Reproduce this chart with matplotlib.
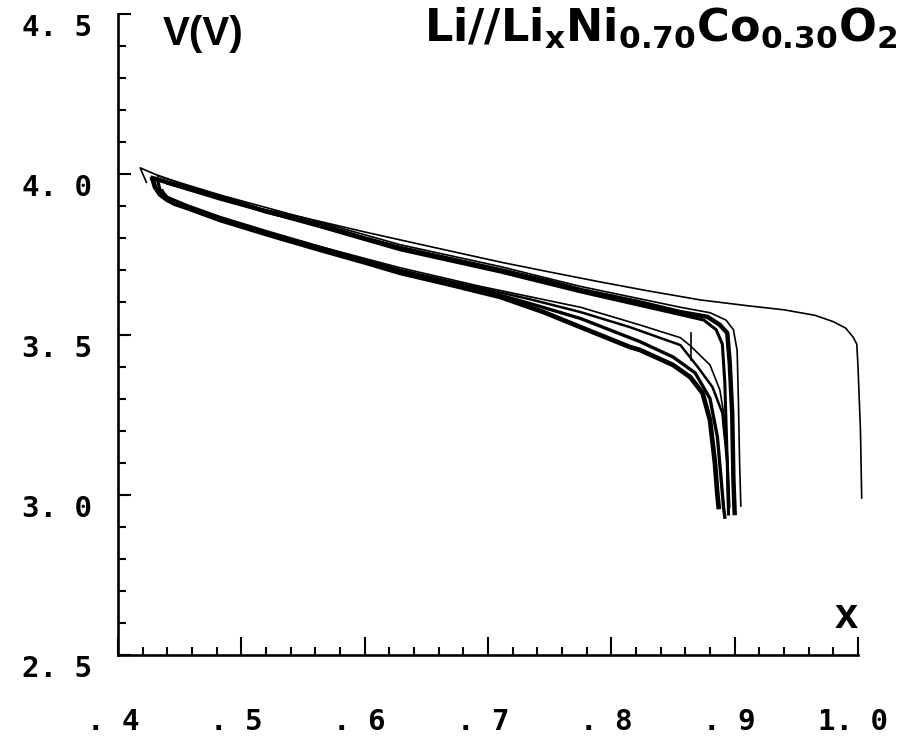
import matplotlib
matplotlib.use('Agg')
import matplotlib.pyplot as plt
from matplotlib.ticker import MultipleLocator
from matplotlib.transforms import ScaledTranslation

# tick labels as printed on the original plot
x_ticks = [0.4, 0.5, 0.6, 0.7, 0.8, 0.9, 1.0]
x_tick_labels = ['. 4', '. 5', '. 6', '. 7', '. 8', '. 9', '1. 0']
y_ticks = [2.5, 3.0, 3.5, 4.0, 4.5]
y_tick_labels = ['2. 5', '3. 0', '3. 5', '4. 0', '4. 5']

# thin outer curve, runs out to x = 1.0
curve_a_x = [0.423, 0.418, 0.430, 0.466, 0.500, 0.548, 0.600, 0.629, 0.670, 0.710, 0.750,
             0.791, 0.830, 0.872, 0.910, 0.940, 0.965, 0.980, 0.990, 0.996, 0.999, 1.000, 1.002, 1.003]
curve_a_y = [3.975, 4.020, 4.000, 3.951, 3.905, 3.867, 3.820, 3.795, 3.760, 3.726, 3.695,
             3.664, 3.636, 3.608, 3.590, 3.577, 3.560, 3.540, 3.520, 3.492, 3.470, 3.400, 3.200, 2.990]

# upper band (thick + two companions)
curve_b1_x = [0.428, 0.440, 0.460, 0.483, 0.520, 0.564, 0.600, 0.629, 0.670, 0.710, 0.750,
              0.775, 0.820, 0.856, 0.878, 0.888, 0.894, 0.896, 0.898, 0.899, 0.900]
curve_b1_y = [3.988, 3.975, 3.953, 3.929, 3.884, 3.842, 3.800, 3.770, 3.735, 3.701, 3.665,
              3.639, 3.603, 3.570, 3.555, 3.530, 3.505, 3.411, 3.255, 3.046, 2.943]
curve_b2_x = [0.432, 0.483, 0.564, 0.629, 0.710, 0.775, 0.856, 0.880, 0.893, 0.899, 0.902,
              0.903, 0.904, 0.905]
curve_b2_y = [3.995, 3.935, 3.850, 3.780, 3.712, 3.650, 3.585, 3.568, 3.545, 3.515, 3.450,
              3.300, 3.100, 2.965]
curve_b3_x = [0.440, 0.483, 0.564, 0.629, 0.710, 0.775, 0.856, 0.875, 0.885, 0.890, 0.892,
              0.894, 0.895]
curve_b3_y = [3.972, 3.922, 3.836, 3.764, 3.695, 3.633, 3.562, 3.545, 3.515, 3.470, 3.350,
              3.100, 2.940]

# lower band
curve_c1_x = [0.428, 0.430, 0.434, 0.440, 0.446, 0.456, 0.483, 0.523, 0.564, 0.600, 0.629,
              0.670, 0.710, 0.745, 0.775, 0.815, 0.823, 0.850, 0.864, 0.874, 0.880, 0.884,
              0.886, 0.887]
curve_c1_y = [3.985, 3.960, 3.937, 3.920, 3.908, 3.895, 3.857, 3.810, 3.764, 3.725, 3.692,
              3.655, 3.617, 3.570, 3.523, 3.461, 3.452, 3.405, 3.367, 3.317, 3.233, 3.099,
              3.000, 2.962]
curve_c2_x = [0.432, 0.434, 0.440, 0.456, 0.483, 0.523, 0.564, 0.629, 0.694, 0.740, 0.775,
              0.815, 0.823, 0.850, 0.868, 0.880, 0.886, 0.889, 0.891, 0.892]
curve_c2_y = [3.985, 3.950, 3.928, 3.902, 3.865, 3.818, 3.772, 3.700, 3.640, 3.590, 3.550,
              3.490, 3.478, 3.430, 3.380, 3.300, 3.180, 3.050, 2.960, 2.930]

# middle curves, joined with the lower band on the left
curve_d_x = [0.436, 0.440, 0.456, 0.483, 0.523, 0.564, 0.629, 0.694, 0.734, 0.775, 0.815,
             0.856, 0.870, 0.882, 0.890, 0.894, 0.895]
curve_d_y = [3.950, 3.925, 3.900, 3.863, 3.816, 3.770, 3.700, 3.645, 3.610, 3.570, 3.523,
             3.467, 3.399, 3.336, 3.255, 3.099, 2.943]
curve_e_x = [0.440, 0.456, 0.483, 0.523, 0.564, 0.629, 0.694, 0.775, 0.823, 0.856, 0.864,
             0.880, 0.888, 0.892, 0.8946, 0.896]
curve_e_y = [3.926, 3.901, 3.864, 3.817, 3.774, 3.708, 3.650, 3.585, 3.530, 3.490, 3.465,
             3.405, 3.327, 3.233, 3.099, 2.962]

# short vertical mark near x = .865
mark_x = [0.8646, 0.8646]
mark_y = [3.420, 3.505]

fig = plt.figure(figsize=(9.09, 7.45), dpi=100)
ax = fig.add_axes([0.1298, 0.1208, 0.8141, 0.8604])

thin = dict(c='k', lw=1.2, clip_on=False)
ax.plot(curve_a_x, curve_a_y, **thin)
ax.plot(curve_b2_x, curve_b2_y, **thin)
ax.plot(curve_e_x, curve_e_y, **thin)
ax.plot(mark_x, mark_y, **thin)
ax.plot(curve_b1_x, curve_b1_y, c='k', lw=3.2, clip_on=False)
ax.plot(curve_b3_x, curve_b3_y, c='k', lw=2.2, clip_on=False)
ax.plot(curve_c1_x, curve_c1_y, c='k', lw=3.4, clip_on=False)
ax.plot(curve_c2_x, curve_c2_y, c='k', lw=2.4, clip_on=False)
ax.plot(curve_d_x, curve_d_y, c='k', lw=1.8, clip_on=False)

ax.set_xlim(0.4, 1.0)
ax.set_ylim(2.5, 4.5)
ax.spines['top'].set_visible(False)
ax.spines['right'].set_visible(False)
ax.spines['left'].set_linewidth(1.9)
ax.spines['bottom'].set_linewidth(1.9)

ax.set_xticks(x_ticks, labels=x_tick_labels)
ax.set_yticks(y_ticks, labels=y_tick_labels)
ax.xaxis.set_minor_locator(MultipleLocator(0.02))
ax.yaxis.set_minor_locator(MultipleLocator(0.1))
ax.tick_params(axis='x', which='major', direction='in', length=13, width=1.5, pad=38)
ax.tick_params(axis='x', which='minor', direction='in', length=6, width=1.5)
ax.tick_params(axis='y', which='major', direction='in', length=9, width=1.5, pad=19)
ax.tick_params(axis='y', which='minor', direction='in', length=6, width=1.5)
for lab in ax.get_xticklabels() + ax.get_yticklabels():
    lab.set_fontfamily('DejaVu Sans Mono')
    lab.set_fontsize(21)
    lab.set_fontweight('bold')
for lab in ax.get_yticklabels():
    lab.set_verticalalignment('top')
# x labels sit a little left of their ticks in the original
shift = ScaledTranslation(-5 / 100, 0, fig.dpi_scale_trans)
for lab in ax.get_xticklabels():
    lab.set_transform(lab.get_transform() + shift)

fig.text(163 / 909, 1 - 45 / 745, 'V(V)', fontsize=29, fontweight='bold',
         family='Liberation Sans', va='baseline', ha='left')
fig.text(858 / 909, 1 - 628 / 745, 'x', fontsize=30, fontweight='bold',
         family='Liberation Sans', va='baseline', ha='right')
fig.text(897 / 909, 1 - 41 / 745,
         r'Li//Li$_\mathregular{x}$Ni$_\mathregular{0.70}$Co$_\mathregular{0.30}$O$_\mathregular{2}$',
         fontsize=32, fontweight='bold', family='DejaVu Sans', va='baseline', ha='right')

fig.savefig('out.png', dpi=100)
